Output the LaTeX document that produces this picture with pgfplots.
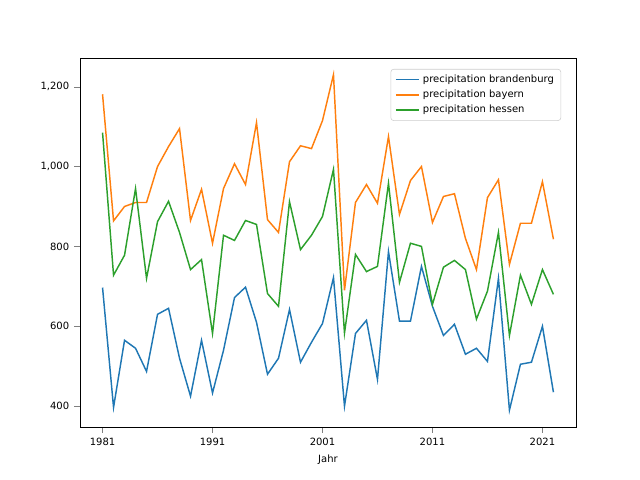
\documentclass[border=0pt]{standalone}
\usepackage{pgfplots}
\pgfplotsset{compat=1.18}
\usepackage{fontspec}
\setmainfont{DejaVu Sans}
\definecolor{c1}{HTML}{1F77B4}
\definecolor{c2}{HTML}{FF7F0E}
\definecolor{c3}{HTML}{2CA02C}
\begin{document}
\begin{tikzpicture}
\path[use as bounding box] (0pt,0pt) rectangle (460.8pt,345.6pt);
\begin{axis}[at={(57.6pt,38.2pt)},anchor=south west,scale only axis,width=357.1pt,height=265.7pt,
 xmin=1978.95,xmax=2024.05,ymin=348,ymax=1272,
 xtick={1981,1991,2001,2011,2021},ytick={400,600,800,1000,1200},
 xticklabel style={/pgf/number format/1000 sep={}},
 /pgf/number format/assume math mode=true,
 tick label style={font=\fontsize{7.2}{8}\selectfont},
 xlabel={Jahr},xlabel style={font=\fontsize{7.2}{8}\selectfont},
 tick align=outside,tick pos=left,
 legend pos=north east,legend cell align=left,
 legend style={font=\fontsize{7.2}{8}\selectfont,draw=black!20,rounded corners=2pt},
 every axis plot/.append style={line width=1.05pt}]
\addplot[c1] table {
1981 697
1982 397
1983 565
1984 545
1985 487
1986 630
1987 645
1988 520
1989 425
1990 565
1991 433
1992 540
1993 672
1994 698
1995 610
1996 480
1997 520
1998 642
1999 510
2000 560
2001 607
2002 722
2003 400
2004 582
2005 615
2006 467
2007 787
2008 613
2009 613
2010 750
2011 650
2012 577
2013 605
2014 530
2015 545
2016 512
2017 720
2018 390
2019 505
2020 510
2021 600
2022 435
};
\addplot[c2] table {
1981 1181
1982 864
1983 900
1984 910
1985 910
1986 1000
1987 1050
1988 1095
1989 865
1990 943
1991 808
1992 945
1993 1007
1994 955
1995 1110
1996 867
1997 835
1998 1012
1999 1052
2000 1045
2001 1115
2002 1230
2003 690
2004 910
2005 955
2006 908
2007 1075
2008 880
2009 965
2010 1000
2011 860
2012 925
2013 932
2014 820
2015 742
2016 922
2017 967
2018 755
2019 858
2020 858
2021 962
2022 818
};
\addplot[c3] table {
1981 1085
1982 728
1983 778
1984 945
1985 720
1986 862
1987 913
1988 835
1989 742
1990 767
1991 582
1992 828
1993 815
1994 865
1995 855
1996 682
1997 650
1998 912
1999 792
2000 828
2001 875
2002 993
2003 583
2004 780
2005 737
2006 750
2007 958
2008 710
2009 808
2010 800
2011 655
2012 748
2013 765
2014 742
2015 618
2016 688
2017 835
2018 577
2019 728
2020 655
2021 742
2022 680
};
\legend{precipitation brandenburg,precipitation bayern,precipitation hessen}
\end{axis}
\end{tikzpicture}
\end{document}
